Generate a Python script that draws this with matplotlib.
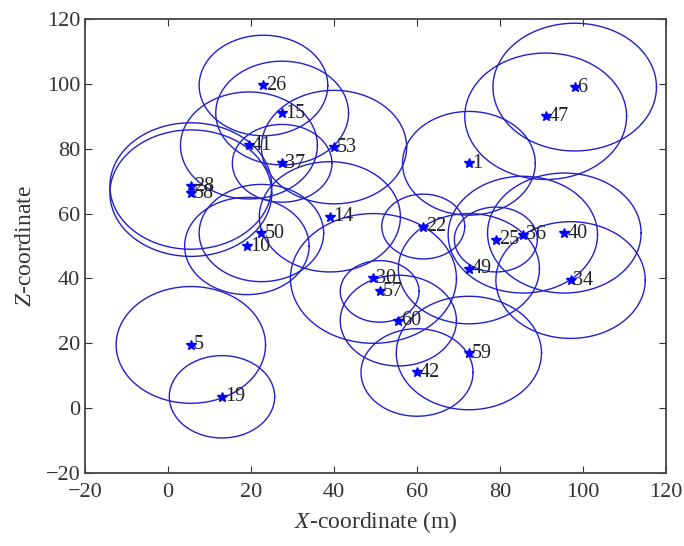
import numpy as np
import matplotlib
matplotlib.use('Agg')
import matplotlib.pyplot as plt

# node data
labels = ['26', '15', '41', '53', '37', '28', '58', '14', '50', '10', '5', '19',
          '6', '47', '1', '22', '25', '36', '40', '49', '34', '30', '57', '60',
          '59', '42']
xs = [23, 27.5, 19.5, 40, 27.5, 5.5, 5.5, 39, 22.5, 19, 5.5, 13,
      98, 91, 72.5, 61.5, 79, 85.5, 95.5, 72.5, 97, 49.5, 51, 55.5,
      72.5, 60]
zs = [99.5, 91, 81, 80.5, 75.5, 68.5, 66.3, 59, 54, 50, 19.5, 3.5,
      99, 90, 75.5, 56, 52, 53.5, 54, 43, 39.5, 40, 36, 27,
      17, 11]
radii = [15.5, 16, 16.5, 17.5, 12, 19.5, 19.5, 17, 15, 15, 18, 12.7,
         19.7, 19.5, 16, 10, 10, 18, 18.5, 17, 18, 20, 9.5, 14,
         17.5, 13.5]

plt.rcParams['font.family'] = 'Liberation Serif'
plt.rcParams['mathtext.fontset'] = 'custom'
plt.rcParams['mathtext.rm'] = 'Liberation Serif'
plt.rcParams['mathtext.it'] = 'Liberation Serif:italic'

fig = plt.figure(figsize=(6.84, 5.46), dpi=100)
ax = fig.add_axes([0.1243, 0.1337, 0.8494, 0.8315])

t = np.linspace(0, 2*np.pi, 240)
for i in range(len(xs)):
    ax.plot(xs[i] + radii[i]*np.cos(t), zs[i] + radii[i]*np.sin(t), color='#2020cc', lw=1.0)

ax.plot(xs, zs, '*', color='#0000ff', ms=7, ls='none')
for i in range(len(xs)):
    ax.text(xs[i] + 0.7, zs[i], labels[i], fontsize=14.5, va='center', ha='left', color='#222222')

ax.set_xlim(-20, 120)
ax.set_ylim(-20, 120)
ax.set_xticks(np.arange(-20, 121, 20))
ax.set_yticks(np.arange(-20, 121, 20))
ax.tick_params(direction='in', top=True, right=True, labelsize=16, length=5, colors='#333333')
ax.tick_params(axis='x', pad=7)
for s in ax.spines.values():
    s.set_color('#444444')
    s.set_linewidth(1.3)
ax.set_xlabel('$X$-coordinate (m)', fontsize=17, color='#333333', labelpad=5)
ax.set_ylabel('$Z$-coordinate', fontsize=17, color='#333333', labelpad=7)

plt.savefig('out.png', dpi=100)
